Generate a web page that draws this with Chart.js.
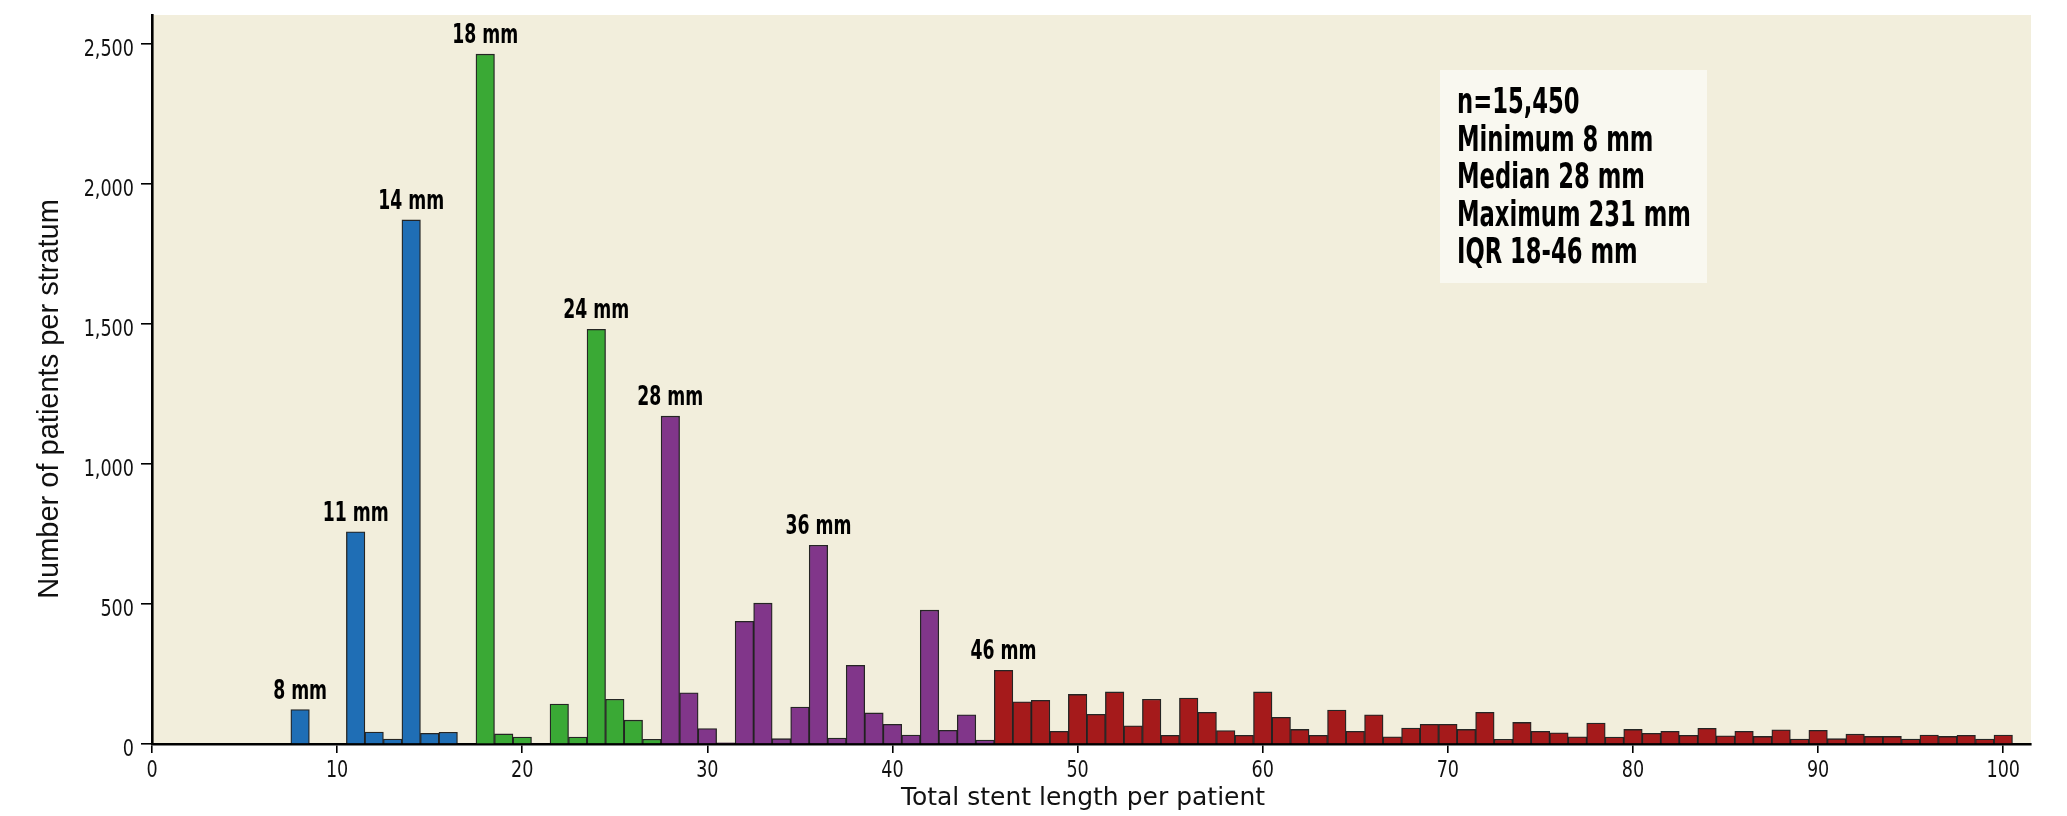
<!DOCTYPE html>
<html><head><meta charset="utf-8">
<script src="https://cdn.jsdelivr.net/npm/chart.js@4.4.0/dist/chart.umd.min.js"></script>
<style>html,body{margin:0;padding:0;background:#fff;}canvas{display:block;}</style>
</head><body>
<canvas id="c" width="2067" height="816"></canvas>
<script>
// Counts per total stent length (mm), one bin per mm, colour groups as in the source figure
const blueStart = 8;
const blueCounts = [123, 0, 0, 758, 43, 18, 1872, 38, 42];            // 8–16 mm
const greenStart = 17;
const greenCounts = [0, 2464, 36, 25, 0, 143, 25, 1481, 160, 85, 17];   // 17–27 mm
const purpleStart = 28;
const purpleCounts = [1171, 183, 55, 4, 438, 503, 19, 132, 710, 21, 281, 111, 70, 32, 478, 49, 104, 14]; // 28–45 mm
const redStart = 46;
const redCounts = [263,151,156,45,177,106,186,65,160,31,164,113,48,31,186,95,52,31,121,45,
                   104,26,57,70,70,52,113,17,77,45,40,26,75,25,52,38,45,31,56,29,
                   45,27,51,18,49,19,35,27,27,18,32,27,31,18,32];          // 46–100 mm
const peakLabels = [8, 11, 14, 18, 24, 28, 36, 46];
const yTicks = [0, 500, 1000, 1500, 2000, 2500];
const xTicks = [0, 10, 20, 30, 40, 50, 60, 70, 80, 90, 100];
const summaryLines = ["n=15,450", "Minimum 8 mm", "Median 28 mm", "Maximum 231 mm", "IQR 18-46 mm"];
const xTitle = "Total stent length per patient";
const yTitle = "Number of patients per stratum";

const groups = [
  {start: blueStart, counts: blueCounts, color: '#1f6eb5'},
  {start: greenStart, counts: greenCounts, color: '#3aa935'},
  {start: purpleStart, counts: purpleCounts, color: '#81368a'},
  {start: redStart, counts: redCounts, color: '#a51a1b'}
];
const points = [], colors = [];
groups.forEach(g => g.counts.forEach((v, i) => {
  if (v > 0) { points.push({x: g.start + i, y: v}); colors.push(g.color); }
}));

const COND = "'DejaVu Sans Condensed', 'Liberation Sans Narrow', sans-serif";

function squeezed(ctx, text, x, y, sx) {
  ctx.save();
  ctx.translate(x, y);
  ctx.scale(sx, 1);
  ctx.fillText(text, 0, 0);
  ctx.restore();
}

const bgPlugin = {
  id: 'bg',
  beforeDraw(chart) {
    const {ctx, chartArea: a} = chart;
    ctx.save();
    ctx.fillStyle = '#f2eedc';
    ctx.fillRect(a.left, a.top, a.right - a.left, a.bottom - a.top);
    ctx.restore();
  }
};

const textPlugin = {
  id: 'texts',
  afterDatasetsDraw(chart) {
    const {ctx} = chart;
    const meta = chart.getDatasetMeta(0);
    ctx.save();
    ctx.fillStyle = '#000';
    ctx.font = "bold 27px " + COND;
    ctx.textAlign = 'center';
    ctx.textBaseline = 'alphabetic';
    peakLabels.forEach(len => {
      const idx = points.findIndex(p => p.x === len);
      if (idx < 0) return;
      const el = meta.data[idx];
      squeezed(ctx, len + ' mm', el.x, el.y - 11, 0.71);
    });
    ctx.restore();
  },
  afterDraw(chart) {
    const {ctx} = chart;
    const xs = chart.scales.x, ys = chart.scales.y;
    ctx.save();
    // tick labels
    ctx.fillStyle = '#111';
    ctx.font = "23px " + COND;
    ctx.textBaseline = 'alphabetic';
    ctx.textAlign = 'right';
    yTicks.forEach(v => {
      const y = ys.getPixelForValue(v);
      ctx.save();
      ctx.translate(134, y + 11.5);
      ctx.scale(0.85, 1);
      ctx.fillText(v.toLocaleString('en-US'), 0, 0);
      ctx.restore();
    });
    ctx.textAlign = 'center';
    xTicks.forEach(v => {
      squeezed(ctx, String(v), xs.getPixelForValue(v), 777, 0.85);
    });
    // summary box
    ctx.fillStyle = '#f9f8f0';
    ctx.fillRect(1440, 70, 267, 213);
    ctx.fillStyle = '#000';
    ctx.font = "bold 35px " + COND;
    ctx.textAlign = 'left';
    summaryLines.forEach((t, i) => squeezed(ctx, t, 1457, 113 + i * 37.5, 0.72));
    // axis titles
    ctx.fillStyle = '#111';
    ctx.font = "25px 'DejaVu Sans', sans-serif";
    ctx.textAlign = 'center';
    ctx.fillText(xTitle, 1083, 805);
    ctx.save();
    ctx.translate(58, 399);
    ctx.rotate(-Math.PI / 2);
    ctx.font = "29px 'Liberation Sans', Arial, sans-serif";
    ctx.fillText(yTitle, 0, 0);
    ctx.restore();
    ctx.restore();
  }
};

new Chart(document.getElementById('c'), {
  type: 'bar',
  data: {
    datasets: [{
      data: points,
      backgroundColor: colors,
      borderColor: 'rgba(25,25,25,0.95)',
      borderWidth: 1.3,
      borderSkipped: 'bottom',
      barPercentage: 1,
      categoryPercentage: 1
    }]
  },
  options: {
    responsive: false,
    animation: false,
    devicePixelRatio: 1,
    layout: {padding: {left: 0, right: 36, top: 15, bottom: 0}},
    plugins: {legend: {display: false}, tooltip: {enabled: false}},
    scales: {
      x: {
        type: 'linear', min: 0, max: 101.5, offset: false,
        afterFit(s) { s.height = 72; },
        afterBuildTicks(s) { s.ticks = xTicks.map(v => ({value: v})); },
        ticks: {display: false, includeBounds: false, autoSkip: false, maxRotation: 0},
        grid: {display: true, drawOnChartArea: false, drawTicks: true, tickLength: 9, color: '#000', lineWidth: 1.6, offset: false},
        border: {display: true, color: '#000', width: 2.6}
      },
      y: {
        min: 0, max: 2604,
        afterFit(s) { s.width = 152; },
        afterBuildTicks(s) { s.ticks = yTicks.map(v => ({value: v})); },
        ticks: {display: false, includeBounds: false},
        grid: {display: true, drawOnChartArea: false, drawTicks: true, tickLength: 11, color: '#000', lineWidth: 1.6},
        border: {display: true, color: '#000', width: 2.6}
      }
    }
  },
  plugins: [bgPlugin, textPlugin]
});
</script>
</body></html>
